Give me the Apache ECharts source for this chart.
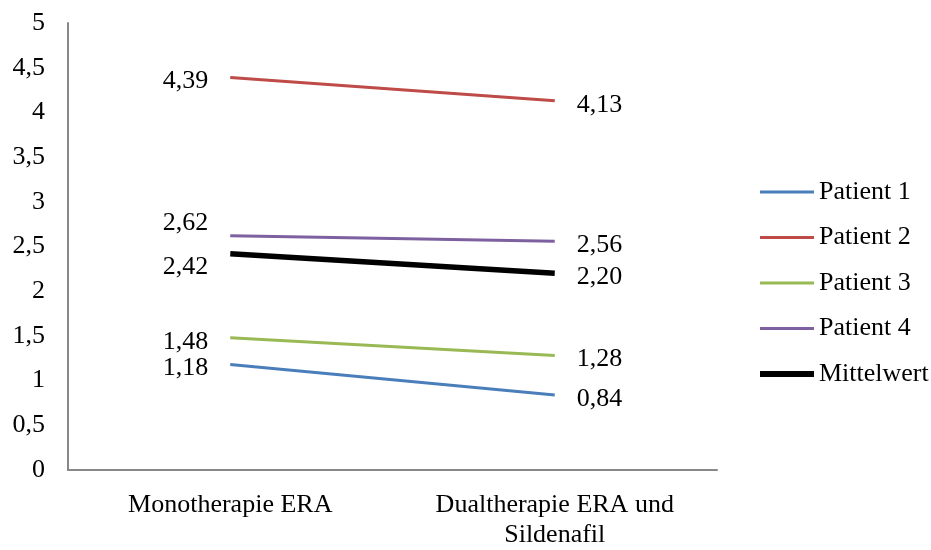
<!DOCTYPE html>
<html>
<head>
<meta charset="utf-8">
<script src="https://cdn.jsdelivr.net/npm/echarts@6/dist/echarts.min.js"></script>
<style>
  html, body { margin: 0; padding: 0; background: #fff; }
  #chart { width: 931px; height: 550px; }
</style>
</head>
<body>
<div id="chart"></div>
<script>
// Therapy phases on the x axis
const categories = ['Monotherapie ERA', 'Dualtherapie ERA und\nSildenafil'];

// Values per patient (mono, dual)
const patient1 = [1.18, 0.84];
const patient2 = [4.39, 4.13];
const patient3 = [1.48, 1.28];
const patient4 = [2.62, 2.56];
const mittelwert = [2.42, 2.20];

const seriesNames = ['Patient 1', 'Patient 2', 'Patient 3', 'Patient 4', 'Mittelwert'];
const seriesValues = [patient1, patient2, patient3, patient4, mittelwert];
const seriesColors = ['#4A7EBB', '#BE4B48', '#98B954', '#7D60A0', '#000000'];
const seriesWidths = [3, 3, 3, 3, 5.5];

// Vertical nudge of the value labels (pixels): first and second category
const labelShiftFirst = [4, 4, 4, -13, 14];
const labelShiftSecond = [4, 4, 4, 4, 4];

const font = 'Liberation Serif, Times New Roman, serif';
const fontSize = 26;
const fmt = v => v.toFixed(2).replace('.', ',');

const series = seriesNames.map((name, i) => ({
  name: name,
  type: 'line',
  symbol: 'circle',
  symbolSize: 0.01,
  showSymbol: true,
  z: i === 4 ? 3 : 2,
  lineStyle: { color: seriesColors[i], width: seriesWidths[i] },
  itemStyle: { color: seriesColors[i] },
  data: seriesValues[i].map((v, j) => ({
    value: v,
    label: {
      show: true,
      position: j === 0 ? 'left' : 'right',
      distance: 22,
      offset: [0, j === 0 ? labelShiftFirst[i] : labelShiftSecond[i]],
      formatter: p => fmt(p.value),
      color: '#000',
      fontFamily: font,
      fontSize: fontSize
    }
  }))
}));

const chart = echarts.init(document.getElementById('chart'), null, { renderer: 'canvas' });
chart.setOption({
  animation: false,
  backgroundColor: '#fff',
  grid: { left: 68, right: 214, top: 23, bottom: 73, containLabel: false },
  legend: {
    orient: 'vertical',
    left: 757,
    top: 179,
    padding: 0,
    itemWidth: 54,
    itemHeight: 14,
    itemGap: 19.5,
    itemStyle: { opacity: 0 },
    textStyle: { fontFamily: font, fontSize: fontSize, color: '#000' },
    data: seriesNames.map((name, i) => ({
      name: name,
      lineStyle: { width: i === 4 ? 6 : 3 }
    }))
  },
  xAxis: {
    type: 'category',
    data: categories,
    boundaryGap: true,
    axisLine: { lineStyle: { color: '#888', width: 2 } },
    axisTick: { show: false },
    axisLabel: {
      margin: 20,
      interval: 0,
      color: '#000',
      fontFamily: font,
      fontSize: fontSize,
      lineHeight: 30
    }
  },
  yAxis: {
    type: 'value',
    min: 0,
    max: 5,
    interval: 0.5,
    axisLine: { show: true, lineStyle: { color: '#888', width: 2 } },
    axisTick: { show: false },
    splitLine: { show: false },
    axisLabel: {
      margin: 23,
      color: '#000',
      fontFamily: font,
      fontSize: fontSize,
      formatter: v => String(v).replace('.', ',')
    }
  },
  series: series
});
</script>
</body>
</html>
